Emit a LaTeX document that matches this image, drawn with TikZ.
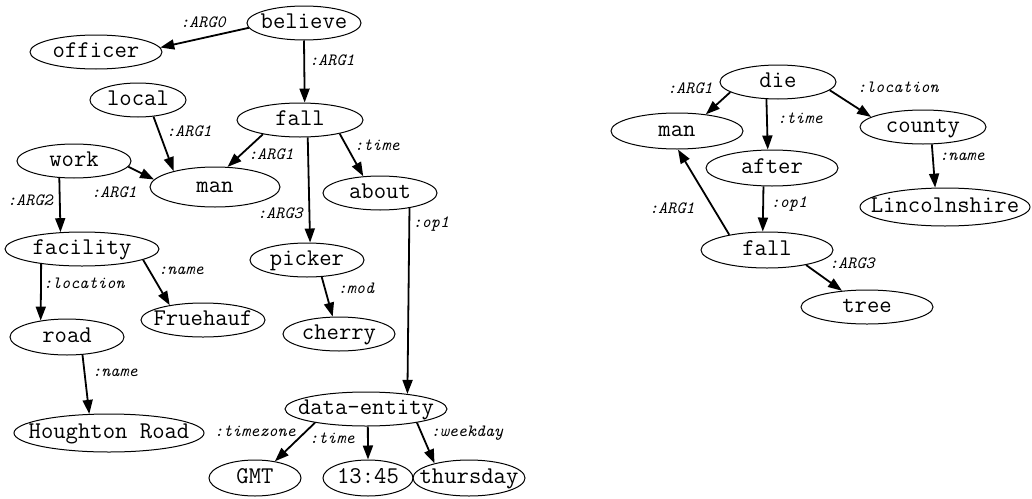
\documentclass[tikz,border=0pt]{standalone}
\usepackage{fontspec}
\usepackage{tikz}
\usetikzlibrary{shapes.geometric,arrows.meta}

\begin{document}
\begin{tikzpicture}[x=0.5pt,y=-0.5pt]
	\tikzstyle{every node}+=[inner sep=0pt]
	\tikzstyle{concept}=[draw, black, ellipse, line width=0.5pt, inner xsep=-30pt, minimum height=17pt, text height=1.5ex, text depth=0.25ex, font=\fontsize{12}{14}\selectfont\ttfamily]
	\tikzstyle{role}=[font=\fontsize{8.6}{10}\selectfont\ttfamily\itshape]
	\tikzstyle{edge}=[black, line width=0.9pt, -{Triangle[length=7pt,width=5pt]}]
	\useasboundingbox (0,0) rectangle (1032,498);
	% first graph
	\node[concept, minimum width=57pt] (believe) at (304,23) {believe};
	\node[concept, minimum width=66pt] (officer) at (96,52) {officer};
	\node[concept, minimum width=48pt] (local) at (138,100) {local};
	\node[concept, minimum width=63pt] (fall) at (300,120) {fall};
	\node[concept, minimum width=57pt] (work) at (74,161) {work};
	\node[concept, minimum width=65pt, minimum height=20pt] (man) at (215,187) {man};
	\node[concept, minimum width=57pt] (about) at (380,193) {about};
	\node[concept, minimum width=77pt] (facility) at (82,249) {facility};
	\node[concept, minimum width=57pt] (picker) at (307,260) {picker};
	\node[concept, minimum width=62pt] (fruehauf) at (203,320) {Fruehauf};
	\node[concept, minimum width=56pt] (cherry) at (339,334) {cherry};
	\node[concept, minimum width=57pt, minimum height=18pt] (road) at (67,337) {road};
	\node[concept, minimum width=81pt] (dataentity) at (366,409) {data-entity};
	\node[concept, minimum width=95pt, minimum height=19pt] (houghton) at (109,433) {Houghton Road};
	\node[concept, minimum width=46pt, minimum height=18pt] (gmt) at (255,478) {GMT};
	\node[concept, minimum width=45pt, minimum height=18pt] (clock) at (368,478) {13:45};
	\node[concept, minimum width=56pt, minimum height=18pt] (thursday) at (469,478) {thursday};
	\draw[edge] (believe.185) -- (officer.4);
	\draw[edge] (believe.-90) -- (fall.75);
	\draw[edge] (local.-47) -- (man.159);
	\draw[edge] (fall.201) -- (man.58);
	\draw[edge] (fall.-19) -- (about.135);
	\draw[edge] (work.-6) -- (man.173);
	\draw[edge] (work.-131) -- (facility.142);
	\draw[edge] (fall.-66) -- (picker.80);
	\draw[edge] (about.-27) -- (dataentity.20);
	\draw[edge] (facility.-10) -- (fruehauf.156);
	\draw[edge] (facility.-160) -- (road.148);
	\draw[edge] (picker.-49) -- (cherry.110);
	\draw[edge] (road.-49) -- (houghton.136);
	\draw[edge] (dataentity.-165) -- (gmt.40);
	\draw[edge] (dataentity.-84) -- (clock.90);
	\draw[edge] (dataentity.-15) -- (thursday.157);
	\node[role] (believe-officer) at (203,22) {:ARG0};
	\node[role] (believe-fall) at (332,60) {:ARG1};
	\node[role] (local-man) at (189,131) {:ARG1};
	\node[role] (fall-man) at (271,154) {:ARG1};
	\node[role] (fall-about) at (377,145) {:time};
	\node[role] (work-man) at (114,192) {:ARG1};
	\node[role] (work-facility) at (30,200) {:ARG2};
	\node[role] (fall-picker) at (280,213) {:ARG3};
	\node[role] (about-dataentity) at (431,224) {:op1};
	\node[role] (facility-fruehauf) at (181,271) {:name};
	\node[role] (facility-road) at (84,283) {:location};
	\node[role] (picker-cherry) at (356,288) {:mod};
	\node[role] (road-houghton) at (115,373) {:name};
	\node[role] (dataentity-gmt) at (255,431) {:timezone};
	\node[role] (dataentity-clock) at (332,438) {:time};
	\node[role] (dataentity-thursday) at (467,433) {:weekday};
	% second graph
	\node[concept, minimum width=58pt] (die) at (778,82) {die};
	\node[concept, minimum width=66pt, minimum height=18pt] (man2) at (677,131) {man};
	\node[concept, minimum width=63pt] (county) at (923,127) {county};
	\node[concept, minimum width=66pt, minimum height=18pt] (after) at (772,168) {after};
	\node[concept, minimum width=85pt, minimum height=19pt] (lincolnshire) at (945,207) {Lincolnshire};
	\node[concept, minimum width=66pt, minimum height=18pt] (fall2) at (767,250) {fall};
	\node[concept, minimum width=66pt] (tree) at (867,307) {tree};
	\draw[edge] (die.192) -- (man2.30);
	\draw[edge] (die.-124) -- (after.103);
	\draw[edge] (die.-9) -- (county.169);
	\draw[edge] (county.-63) -- (lincolnshire.117);
	\draw[edge] (after.-115) -- (fall2.103);
	\draw[edge] (fall2.158) -- (man2.-87);
	\draw[edge] (fall2.-21) -- (tree.147);
	\node[role] (die-man) at (690,88) {:ARG1};
	\node[role] (die-after) at (800,118) {:time};
	\node[role] (die-county) at (898,87) {:location};
	\node[role] (county-lincolnshire) at (962,157) {:name};
	\node[role] (after-fall) at (789,204) {:op1};
	\node[role] (fall-man2) at (672,208) {:ARG1};
	\node[role] (fall-tree) at (852,263) {:ARG3};
\end{tikzpicture}
\end{document}
